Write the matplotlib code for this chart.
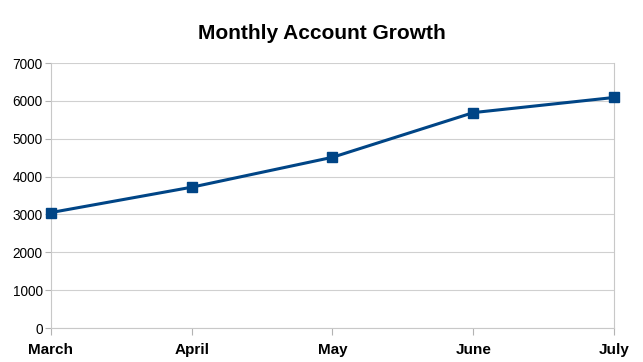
import matplotlib.pyplot as plt

months = ["March", "April", "May", "June", "July"]
accounts = [3050, 3720, 4510, 5690, 6090]
y_ticks = [0, 1000, 2000, 3000, 4000, 5000, 6000, 7000]

plt.rcParams['font.family'] = ['Liberation Sans', 'DejaVu Sans']

fig = plt.figure(figsize=(6.43, 3.62), dpi=100)
ax = fig.add_axes([0.0793, 0.0939, 0.8756, 0.732])

x = list(range(len(months)))
ax.plot(x, accounts, color="#004586", linewidth=2.2, marker="s",
        markersize=7.5, zorder=3, clip_on=False)

ax.set_xlim(0, len(months) - 1)
ax.set_ylim(0, 7000)
ax.set_yticks(y_ticks)
ax.set_xticks(x)
ax.set_xticklabels(months, fontsize=11, fontweight="bold")
ax.tick_params(axis="y", labelsize=9.8, length=4, color="#b3b3b3", pad=2)
ax.tick_params(axis="x", length=5, color="#b3b3b3", pad=6)
ax.grid(axis="y", color="#d0d0d0", linewidth=0.8)
ax.set_axisbelow(True)

for side in ["left", "right", "top", "bottom"]:
    ax.spines[side].set_color("#c8c8c8")
    ax.spines[side].set_linewidth(0.8)
ax.spines["top"].set_visible(False)

fig.text(0.5, 0.908, "Monthly Account Growth", ha="center", va="center",
         fontsize=15, fontweight="bold")

plt.savefig("out.png", dpi=100)
